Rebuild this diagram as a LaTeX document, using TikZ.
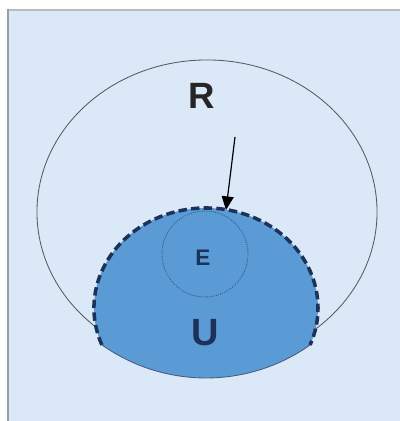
\documentclass[tikz,border=0pt]{standalone}
\usepackage{fontspec}
\setmainfont{Liberation Sans}
\usetikzlibrary{arrows.meta}
\definecolor{PanelBlue}{RGB}{219,232,248}
\definecolor{PanelEdge}{RGB}{150,158,168}
\definecolor{UBlue}{RGB}{91,155,213}
\definecolor{UNavy}{RGB}{28,50,88}
\definecolor{ENavy}{RGB}{45,85,135}

\begin{document}
\begin{tikzpicture}[x=0.025cm,y=0.025cm,
  lbl/.style={font=\bfseries,inner sep=0pt},
  rim/.style={UNavy,line width=2.5pt,dash pattern=on 6pt off 3pt},
  arr/.style={-{Triangle[length=3.4mm,width=3mm]},line width=0.85pt,black},
]
\useasboundingbox (0,0) rectangle (400,421);
\fill[white] (0,0) rectangle (400,421);
\fill[PanelBlue] (8,0) rectangle (400,411);
\draw[PanelEdge!70,line width=1pt] (8,411) -- (400,411);
\draw[PanelEdge,line width=1.3pt] (8,0) -- (8,411.5);
% outer region R
\draw[black!65,line width=0.6pt] (207,209) ellipse [x radius=4.25cm,y radius=3.8cm];
% region U
\coordinate (uleft) at (101.9,76);
\fill[UBlue] (uleft) arc[start angle=201.7,end angle=-21.7,x radius=2.8cm,y radius=2.5cm]
  arc[start angle=-54.8,end angle=-125.2,radius=4.51cm] -- cycle;
\draw[rim] (uleft) arc[start angle=201.7,end angle=-21.7,x radius=2.8cm,y radius=2.5cm]
  coordinate (uright);
\draw[UNavy!80,line width=0.6pt] (uright) arc[start angle=-54.8,end angle=-125.2,radius=4.51cm];
% region E
\draw[ENavy,line width=0.6pt,dash pattern=on 0.7pt off 0.9pt] (205,167) circle [radius=1.075cm];
\node[lbl,font=\fontsize{26}{30}\selectfont\bfseries,text=black!85] (rlab) at (202,325) {R};
\node[lbl,font=\fontsize{27}{30}\selectfont\bfseries,text=UNavy] (ulab) at (205,88) {U};
\node[lbl,font=\fontsize{16}{18}\selectfont\bfseries,text=UNavy] (elab) at (203,163) {E};
\coordinate (tail) at (235,284);
\coordinate (tip) at (226,211);
\draw[arr] (tail) -- (tip);
\end{tikzpicture}
\end{document}
